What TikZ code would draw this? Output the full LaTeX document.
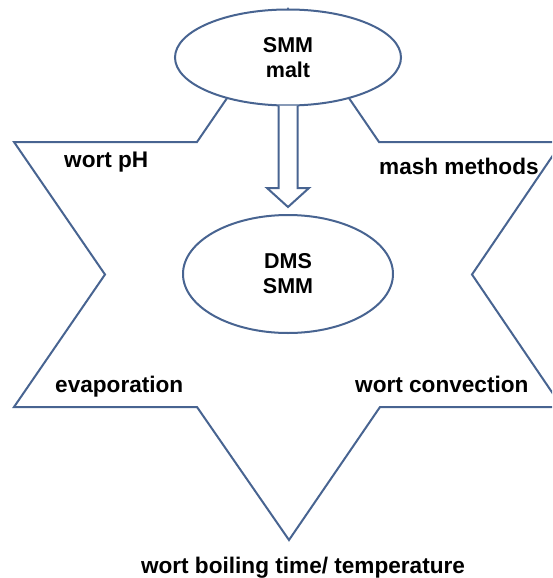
\documentclass[tikz,border=0pt]{standalone}
\usepackage{fontspec}
\setmainfont{Liberation Sans}
\usetikzlibrary{shapes.geometric,calc}
\definecolor{starblue}{RGB}{72,100,145}
\tikzset{
    outline/.style = {draw=starblue, line width=2pt, line join=miter},
    oval/.style = {ellipse, outline, fill=white, inner sep=0pt, align=center,
        font=\fontsize{21.5}{25}\selectfont\bfseries},
    factor/.style = {font=\fontsize{22.6}{26}\selectfont\bfseries, inner sep=0pt}
}
\begin{document}
\begin{tikzpicture}[x=1pt, y=-1pt]
        \useasboundingbox (0, 0) rectangle (552, 578);
        \clip (0, 0) rectangle (552, 578);
        % six-pointed star
        \draw [outline] (288, 9) -- (379, 142) -- (562, 142) -- (472, 274.5)
            -- (562, 407) -- (380, 407) -- (289, 540) -- (197, 407)
            -- (14, 407) -- (105, 274.5) -- (14, 142) -- (197, 142) -- cycle;
        \node [oval, minimum width=226pt, minimum height=96pt] (malt) at (288, 57.5) {SMM\\malt};
        \node [oval, minimum width=210pt, minimum height=118pt] (dms) at (288, 274) {DMS\\SMM};
        % block arrow
        \draw [outline, fill=white] ($(malt.south) + (-9.5, -1)$) -- ($(dms.north) + (-9.5, -26)$)
            -- ($(dms.north) + (-21, -26)$) -- ($(dms.north) + (0, -7)$)
            -- ($(dms.north) + (21, -26)$) -- ($(dms.north) + (9.5, -26)$)
            -- ($(malt.south) + (9.5, -1)$);
        \node [factor, anchor=base west] (ph) at (64, 167) {wort pH};
        \node [factor, anchor=base west] (mash) at (379, 174) {mash methods};
        \node [factor, anchor=base west] (evap) at (55, 392) {evaporation};
        \node [factor, anchor=base west] (conv) at (355, 392) {wort convection};
        \node [factor, anchor=base] (boil) at (303, 573) {wort boiling time/ temperature};
    \end{tikzpicture}
\end{document}
